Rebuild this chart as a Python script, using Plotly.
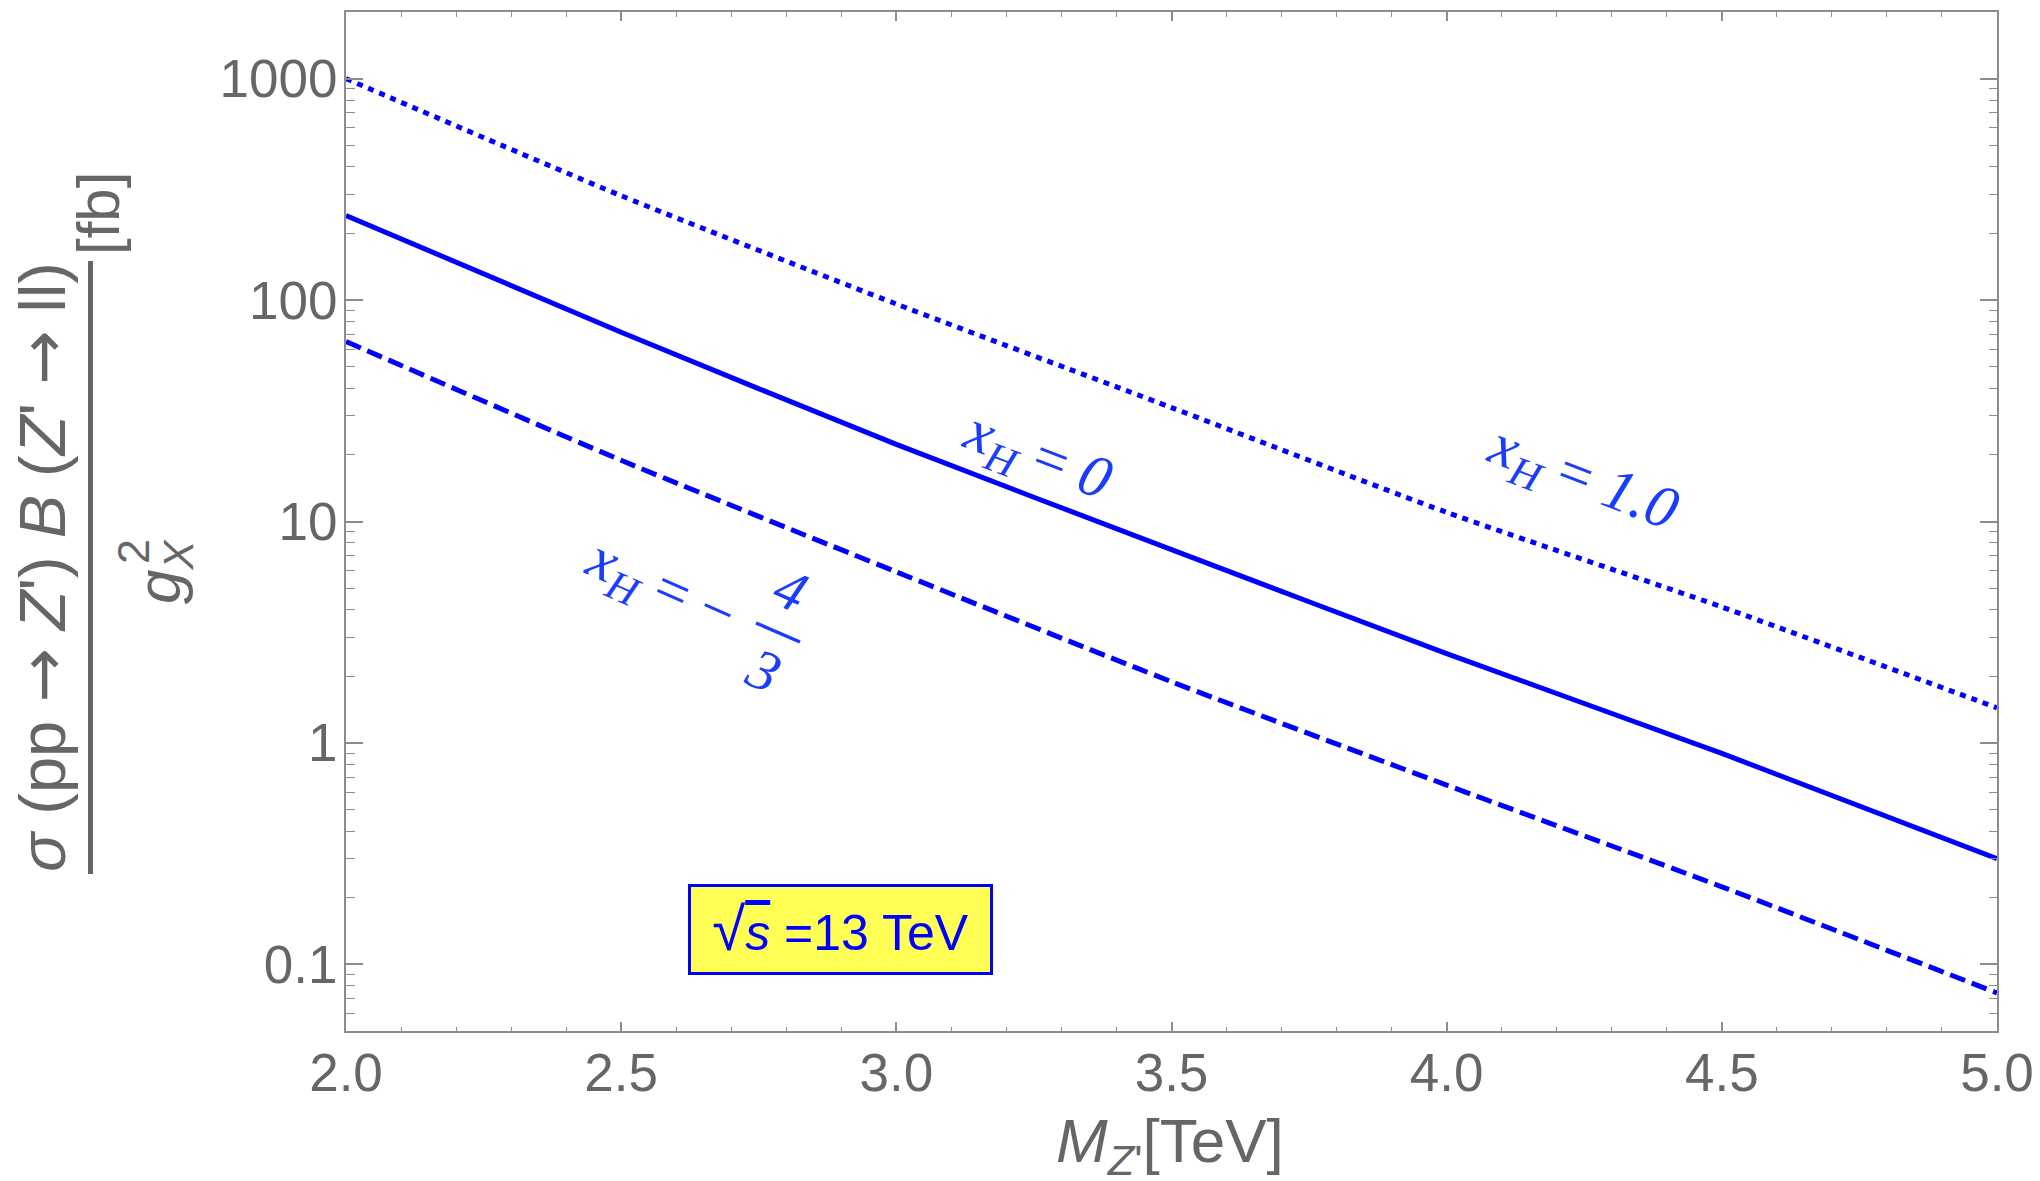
import plotly.graph_objects as go

# ---------------- data ----------------
mass_tev = [2.0, 2.5, 3.0, 3.5, 4.0, 4.5, 5.0]
sigma_xh_1p0 = [1000, 296, 96, 32.7, 11.0, 4.11, 1.44]      # dotted
sigma_xh_0 = [241, 71.6, 22.3, 7.47, 2.53, 0.897, 0.30]      # solid
sigma_xh_m43 = [65, 18.9, 5.92, 1.89, 0.645, 0.224, 0.0743]  # dashed

x_major = [2.0, 2.5, 3.0, 3.5, 4.0, 4.5, 5.0]
x_major_text = ["2.0", "2.5", "3.0", "3.5", "4.0", "4.5", "5.0"]
x_minor = [round(2.0 + 0.1 * i, 1) for i in range(31)]
x_minor = [v for v in x_minor if v not in x_major]
y_major = [0.1, 1, 10, 100, 1000]
y_major_text = ["0.1", "1", "10", "100", "1000"]
y_minor = [m * d for d in [0.01, 0.1, 1, 10, 100] for m in range(2, 10)]
y_minor = [v for v in y_minor if 0.05 <= v <= 2000] + [2000]

# ---------------- layout geometry ----------------
W, H = 2040, 1181
L, R, T, B = 346, 43, 12, 150
PW, PH = W - L - R, H - T - B


def px(xp):
    return (xp - L) / PW


def py(yp):
    return (H - B - yp) / PH


BLUE = "#0000ff"
LBLUE = "#1a3cff"
GREY = "#666666"
FRAME = "#8c8c8c"

fig = go.Figure()
fig.add_trace(go.Scatter(x=mass_tev, y=sigma_xh_1p0, mode="lines",
                         line=dict(color=BLUE, width=5, dash="6px,6px", shape="spline", smoothing=0.6),
                         showlegend=False))
fig.add_trace(go.Scatter(x=mass_tev, y=sigma_xh_0, mode="lines",
                         line=dict(color=BLUE, width=5, shape="spline", smoothing=0.6),
                         showlegend=False))
fig.add_trace(go.Scatter(x=mass_tev, y=sigma_xh_m43, mode="lines",
                         line=dict(color=BLUE, width=5, dash="16px,7px", shape="spline", smoothing=0.6),
                         showlegend=False))

tickfont = dict(family="Liberation Sans, Arial, sans-serif", size=53, color=GREY)

fig.update_layout(
    width=W, height=H,
    margin=dict(l=L, r=R, t=T, b=B, autoexpand=False),
    paper_bgcolor="white", plot_bgcolor="white",
    showlegend=False,
    xaxis=dict(range=[2.0, 5.0], tickvals=x_major, ticktext=x_major_text, automargin=False,
               ticks="inside", ticklen=9, tickwidth=1.5, tickcolor=FRAME,
               showline=True, linecolor=FRAME, linewidth=2, mirror="allticks",
               showgrid=False, zeroline=False, tickfont=tickfont, ticklabelstandoff=-6,
               minor=dict(tickvals=x_minor, ticks="inside", ticklen=4.5, tickwidth=1.2,
                          tickcolor=FRAME, showgrid=False)),
    yaxis=dict(type="log", range=[-1.30103, 3.30103], tickvals=y_major, ticktext=y_major_text,
               automargin=False,
               ticks="inside", ticklen=17, tickwidth=1.5, tickcolor=FRAME,
               showline=True, linecolor=FRAME, linewidth=2, mirror="allticks",
               showgrid=False, zeroline=False, tickfont=tickfont, ticklabelstandoff=-4,
               minor=dict(tickvals=y_minor, ticks="inside", ticklen=8.5, tickwidth=1.2,
                          tickcolor=FRAME, showgrid=False)),
)

serif = "Liberation Serif, Times New Roman, serif"
sans = "Liberation Sans, Arial, sans-serif"
ARROW = "<span style='font-family:DejaVu Sans'>→</span>"
ann = []

# curve labels
ann.append(dict(text="<i>x</i><sub><i>H</i></sub> = <i>0</i>", x=px(1037), y=py(458),
                textangle=21, font=dict(family=serif, size=60, color=LBLUE)))
ann.append(dict(text="<i>x</i><sub><i>H</i></sub> = <i>1.0</i>", x=px(1582), y=py(480),
                textangle=21, font=dict(family=serif, size=60, color=LBLUE)))
ann.append(dict(text="<i>x</i><sub><i>H</i></sub> = −", x=px(660), y=py(590),
                textangle=24, font=dict(family=serif, size=60, color=LBLUE)))
ann.append(dict(text="<i>4</i>", x=px(790), y=py(590),
                textangle=24, font=dict(family=serif, size=58, color=LBLUE)))
ann.append(dict(text="<i>3</i>", x=px(764), y=py(670),
                textangle=24, font=dict(family=serif, size=58, color=LBLUE)))

# sqrt(s) box
ann.append(dict(text="<span style='font-size:60px'>√</span><span style='text-decoration:overline'><i>s</i></span> =13 TeV",
                x=px(840.5), y=py(929.5), width=293, height=79, borderpad=3,
                bgcolor="#ffff55", bordercolor=BLUE, borderwidth=3,
                font=dict(family=sans, size=50, color=BLUE)))

# x-axis title
ann.append(dict(text="<i>M</i><sub><i>Z</i>'</sub>[TeV]", x=px(1170), y=py(1145),
                font=dict(family=sans, size=62, color=GREY)))

# y-axis title (fraction)
ann.append(dict(text="<i>σ</i> (pp " + ARROW + " <i>Z</i>') <i>B</i> (<i>Z</i>' " + ARROW + " ll)",
                x=px(42), y=py(567),
                textangle=-90, font=dict(family=sans, size=65, color=GREY)))
ann.append(dict(text="<i>g</i><sub><i>X</i></sub>", x=px(163), y=py(572),
                textangle=-90, font=dict(family=sans, size=62, color=GREY)))
ann.append(dict(text="2", x=px(133), y=py(552),
                textangle=-90, font=dict(family=sans, size=45, color=GREY)))
ann.append(dict(text="[fb]", x=px(98), y=py(214),
                textangle=-90, font=dict(family=sans, size=60, color=GREY)))

for a in ann:
    a.update(xref="paper", yref="paper", showarrow=False, xanchor="center", yanchor="middle")
fig.update_layout(annotations=ann)

fig.add_shape(type="line", xref="paper", yref="paper",
              x0=px(90.5), x1=px(90.5), y0=py(261), y1=py(874),
              line=dict(color=GREY, width=5))
# fraction bar of -4/3 label
fig.add_shape(type="line", xref="paper", yref="paper",
              x0=px(756), y0=py(623), x1=px(800), y1=py(642),
              line=dict(color=LBLUE, width=3.5))

fig.write_html("out.html", config={"displayModeBar": False},
               post_script="document.body.style.margin='0';document.body.style.overflow='hidden';")
